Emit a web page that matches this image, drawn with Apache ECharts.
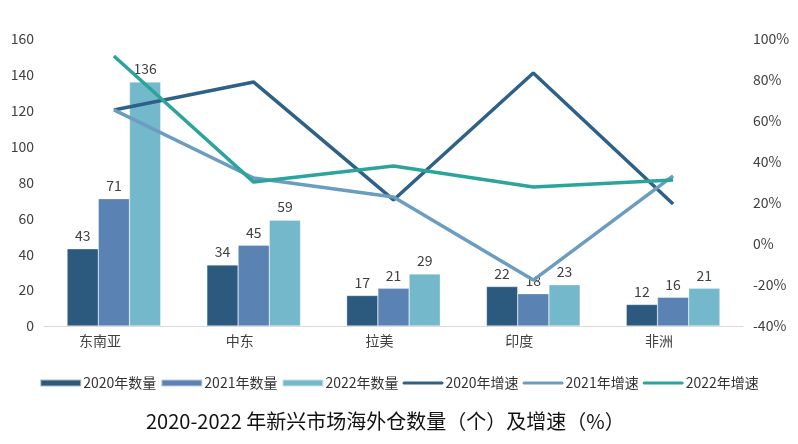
<!DOCTYPE html>
<html><head><meta charset="utf-8">
<script src="https://cdn.jsdelivr.net/npm/echarts@6/dist/echarts.min.js"></script>
<style>html,body{margin:0;padding:0;background:#fff}#c{width:798px;height:444px}</style>
</head><body><div id="c"></div>
<script>
const categories = ['东南亚', '中东', '拉美', '印度', '非洲'];
const count2020 = [43, 34, 17, 22, 12];
const count2021 = [71, 45, 21, 18, 16];
const count2022 = [136, 59, 29, 23, 21];
const growth2020 = [65.4, 79, 21.5, 83.4, 19.5];
const growth2021 = [65.4, 32.2, 22.9, -17.6, 33.2];
const growth2022 = [91.7, 30.2, 38, 27.8, 31.2];
const leftTicks = {min: 0, max: 160, interval: 20};
const rightTicks = {min: -40, max: 100, interval: 20};
const titleText = '2020-2022 年新兴市场海外仓数量（个）及增速（%）';

const font = '"Noto Sans CJK SC", "Noto Sans", sans-serif';
const chart = echarts.init(document.getElementById('c'));
const barLabel = {show: true, position: 'top', color: '#404040', fontSize: 14, fontFamily: font, distance: 6};
const lineIcon = 'path://M1.5,0 L38.5,0 A1.5,1.5 0 0 1 38.5,3 L1.5,3 A1.5,1.5 0 0 1 1.5,0 Z';
function bar(name, data, color) {
  return {name, type: 'bar', data, barGap: '0%', barCategoryGap: '33%',
    itemStyle: {color, borderColor: 'rgba(255,255,255,0.6)', borderWidth: 0.5}, label: barLabel};
}
function line(name, data, color) {
  return {name, type: 'line', yAxisIndex: 1, data, symbol: 'none', smooth: false,
    lineStyle: {color, width: 3.5}, itemStyle: {color}};
}
chart.setOption({
  animation: false,
  textStyle: {fontFamily: font},
  title: {text: titleText, left: 141, top: 406,
    textStyle: {fontSize: 20, fontWeight: 'normal', color: '#111', fontFamily: font}},
  legend: {left: 'center', top: 371, itemGap: 4, itemWidth: 41, itemHeight: 7,
    textStyle: {fontSize: 14, color: '#333', fontFamily: font, padding: [0, 0, 0, -3]},
    data: [
      {name: '2020年数量', icon: 'rect'}, {name: '2021年数量', icon: 'rect'}, {name: '2022年数量', icon: 'rect'},
      {name: '2020年增速', icon: lineIcon}, {name: '2021年增速', icon: lineIcon}, {name: '2022年增速', icon: lineIcon}
    ]},
  grid: {left: 44, right: 55, top: 39, bottom: 118},
  xAxis: {type: 'category', data: categories,
    axisLine: {lineStyle: {color: '#d9d9d9', width: 1}}, axisTick: {show: false},
    axisLabel: {color: '#404040', fontSize: 14, fontFamily: font, margin: 8, padding: [0, 28, 0, 0]}},
  yAxis: [
    {type: 'value', min: leftTicks.min, max: leftTicks.max, interval: leftTicks.interval,
      splitLine: {show: false}, axisLine: {show: false}, axisTick: {show: false},
      axisLabel: {color: '#404040', fontSize: 14, fontFamily: font, margin: 10}},
    {type: 'value', min: rightTicks.min, max: rightTicks.max, interval: rightTicks.interval,
      splitLine: {show: false}, axisLine: {show: false}, axisTick: {show: false},
      axisLabel: {color: '#404040', fontSize: 14, fontFamily: font, margin: 10, formatter: '{value}%'}}
  ],
  series: [
    bar('2020年数量', count2020, '#2b5a7e'),
    bar('2021年数量', count2021, '#5a82b2'),
    bar('2022年数量', count2022, '#74b8cb'),
    line('2020年增速', growth2020, '#2e6188'),
    line('2021年增速', growth2021, '#6a9dc0'),
    line('2022年增速', growth2022, '#2ba59b')
  ]
});
</script></body></html>
